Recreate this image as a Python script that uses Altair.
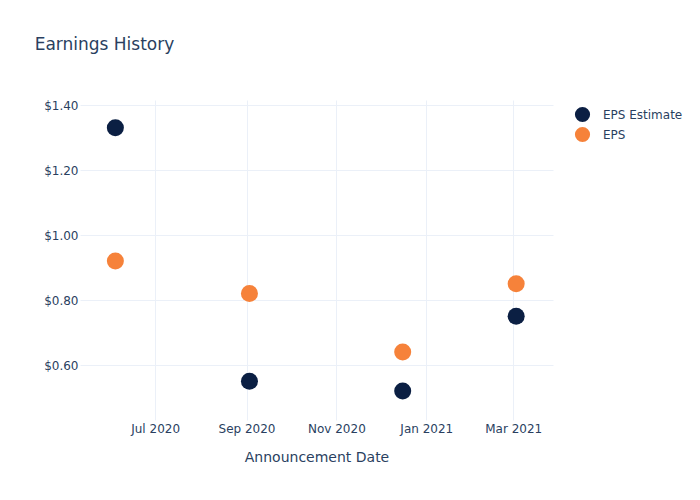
import altair as alt
import pandas as pd

dates = ["2020-06-04", "2020-09-03", "2020-12-16", "2021-03-03"]
eps_estimate = [1.33, 0.55, 0.52, 0.75]
eps_actual = [0.92, 0.82, 0.64, 0.85]
series_names = ["EPS Estimate", "EPS"]
colors = ["#0b1f43", "#f6823a"]
y_ticks = [0.6, 0.8, 1.0, 1.2, 1.4]
x_ticks = ["2020-07-01", "2020-09-01", "2020-11-01", "2021-01-01", "2021-03-01"]

rows = []
for d, v in zip(dates, eps_estimate):
    rows.append({"date": d, "value": v, "series": "EPS Estimate"})
for d, v in zip(dates, eps_actual):
    rows.append({"date": d, "value": v, "series": "EPS"})
df = pd.DataFrame(rows)

FONT = "DejaVu Sans"
TXT = "#2a3f5f"
GRID = "#ebf0f8"

x_tick_vals = [alt.DateTime(year=int(t[:4]), month=int(t[5:7]), date=1) for t in x_ticks]

chart = alt.Chart(df).mark_circle(size=290, opacity=1).encode(
    x=alt.X("date:T", title="Announcement Date",
            scale=alt.Scale(domain=[alt.DateTime(year=2020, month=5, date=11),
                                    alt.DateTime(year=2021, month=3, date=28)]),
            axis=alt.Axis(values=x_tick_vals, format="%b %Y", domain=False, ticks=False,
                          labelPadding=3, titlePadding=16, labelFontSize=12,
                          titleFontSize=14, titleFontWeight="normal",
                          labelColor=TXT, titleColor=TXT, gridColor=GRID,
                          labelFont=FONT, titleFont=FONT)),
    y=alt.Y("value:Q", title=None,
            scale=alt.Scale(domain=[0.4308, 1.4154], zero=False, nice=False),
            axis=alt.Axis(values=y_ticks, format="$.2f", domain=False, ticks=False,
                          labelPadding=2, labelFontSize=12, labelColor=TXT,
                          gridColor=GRID, labelFont=FONT)),
    color=alt.Color("series:N", sort=series_names,
                    scale=alt.Scale(domain=series_names, range=colors),
                    legend=alt.Legend(title=None, orient="none", legendX=494, legendY=6,
                                      symbolSize=230, symbolType="circle",
                                      labelFontSize=12, labelColor=TXT, labelFont=FONT,
                                      labelOffset=12, rowPadding=3, symbolOpacity=1)),
    order=alt.Order("series:N", sort="descending"),
).properties(
    width=473, height=320,
    background="white",
    title=alt.TitleParams("Earnings History", anchor="start", fontSize=17,
                          font=FONT, fontWeight="normal", color=TXT,
                          dx=-9, dy=-41),
    autosize=alt.AutoSizeParams(type="none"),
    padding={"left": 80, "top": 100, "right": 147, "bottom": 80},
).configure_view(strokeWidth=0, stroke="transparent")

chart.save("out.html", embed_options={"renderer": "svg", "actions": False})
